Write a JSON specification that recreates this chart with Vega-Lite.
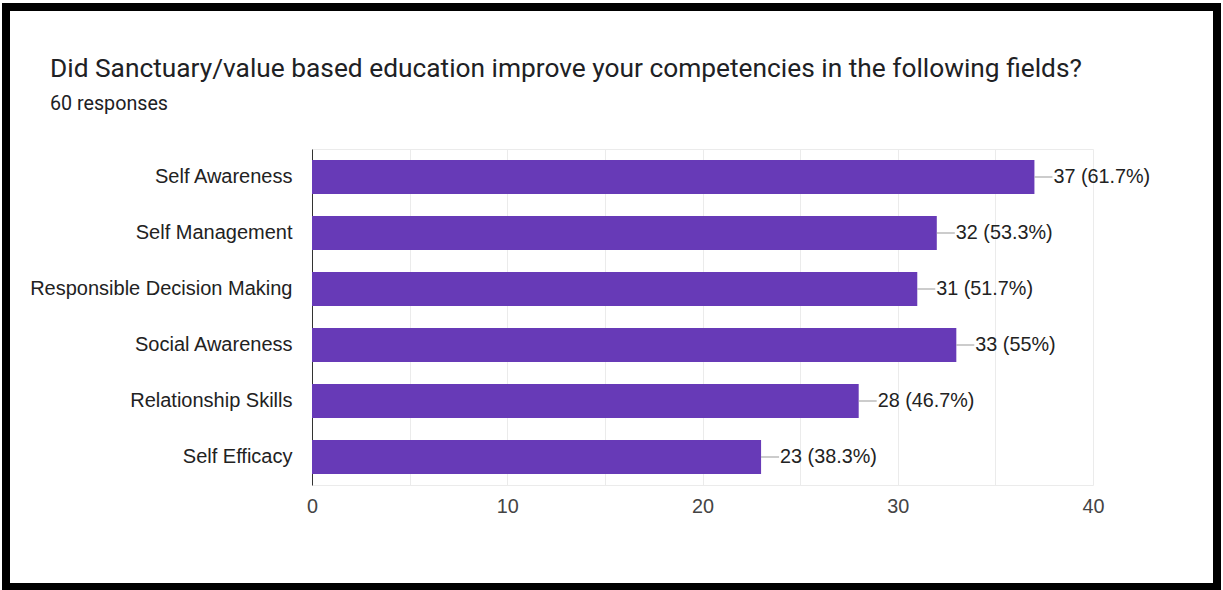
{
  "$schema": "https://vega.github.io/schema/vega-lite/v6.json",
  "width": 1211,
  "height": 580,
  "autosize": {"type": "none"},
  "padding": {"left": 6, "top": 7, "right": 6, "bottom": 3},
  "background": "white",
  "config": {
    "view": {"fill": "white", "stroke": "black", "strokeWidth": 8},
    "font": "Liberation Sans"
  },
  "title": {
    "text": "Did Sanctuary/value based education improve your competencies in the following fields?",
    "subtitle": "60 responses",
    "anchor": "start",
    "frame": "group",
    "dx": 44,
    "offset": -107,
    "font": "Roboto",
    "fontSize": 26.3,
    "fontWeight": "normal",
    "color": "#202124",
    "subtitleFont": "Roboto",
    "subtitleFontSize": 19.7,
    "subtitleColor": "#202124",
    "subtitlePadding": 12
  },
  "data": {
    "values": [
      {"field": "Self Awareness", "count": 37, "label": "37 (61.7%)"},
      {"field": "Self Management", "count": 32, "label": "32 (53.3%)"},
      {"field": "Responsible Decision Making", "count": 31, "label": "31 (51.7%)"},
      {"field": "Social Awareness", "count": 33, "label": "33 (55%)"},
      {"field": "Relationship Skills", "count": 28, "label": "28 (46.7%)"},
      {"field": "Self Efficacy", "count": 23, "label": "23 (38.3%)"}
    ]
  },
  "encoding": {
    "y": {
      "field": "field",
      "type": "nominal",
      "sort": ["Self Awareness", "Self Management", "Responsible Decision Making", "Social Awareness", "Relationship Skills", "Self Efficacy"],
      "scale": {"range": [142, 478], "paddingInner": 0.39, "paddingOuter": 0.195},
      "axis": {
        "title": null,
        "orient": "left",
        "offset": -306,
        "domainColor": "#333333",
        "domainWidth": 1,
        "ticks": false,
        "tickSize": 0,
        "labelPadding": 20,
        "labelLimit": 400,
        "labelFont": "Liberation Sans",
        "labelFontSize": 20,
        "labelColor": "#222222",
        "grid": false
      }
    }
  },
  "layer": [
    {
      "mark": {"type": "bar", "color": "#673ab7"},
      "encoding": {
        "x": {
          "field": "count",
          "type": "quantitative",
          "scale": {"domain": [0, 40], "range": [306, 1087], "nice": false},
          "axis": {
            "title": null,
            "orient": "bottom",
            "offset": -102,
            "values": [0, 10, 20, 30, 40],
            "labelFlush": false,
            "domainColor": "#ebebeb",
            "domainWidth": 1,
            "ticks": false,
            "tickSize": 0,
            "labelPadding": 11,
            "labelFont": "Liberation Sans",
            "labelFontSize": 19.8,
            "labelColor": "#444444",
            "grid": false
          }
        }
      }
    },
    {
      "mark": {"type": "rule", "color": "#999999", "strokeWidth": 1, "x2Offset": 18},
      "encoding": {
        "x": {"field": "count", "type": "quantitative", "axis": null},
        "x2": {"field": "count"}
      }
    },
    {
      "mark": {"type": "text", "align": "left", "baseline": "middle", "dx": 19, "font": "Liberation Sans", "fontSize": 19.8, "color": "#222222"},
      "encoding": {
        "x": {
          "field": "count",
          "type": "quantitative",
          "axis": {
            "title": null,
            "orient": "top",
            "offset": -142,
            "values": [0, 5, 10, 15, 20, 25, 30, 35, 40],
            "labels": false,
            "ticks": false,
            "grid": true,
            "gridColor": "#ebebeb",
            "gridWidth": 1,
            "domainColor": "#ebebeb",
            "domainWidth": 1
          }
        },
        "text": {"field": "label", "type": "nominal"}
      }
    }
  ],
  "resolve": {"axis": {"x": "independent"}}
}
